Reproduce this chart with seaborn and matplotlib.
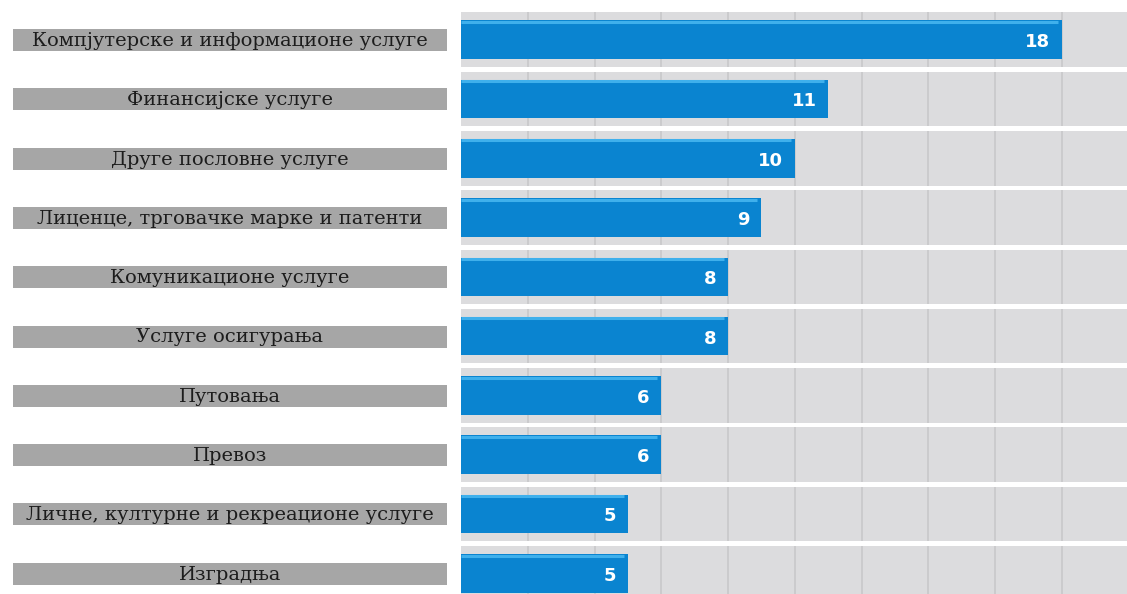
import matplotlib
matplotlib.use("Agg")
import matplotlib.pyplot as plt
import seaborn as sns
import pandas as pd
from matplotlib.patches import Rectangle

categories = [
    "Компјутерске и информационе услуге",
    "Финансијске услуге",
    "Друге пословне услуге",
    "Лиценце, трговачке марке и патенти",
    "Комуникационе услуге",
    "Услуге осигурања",
    "Путовања",
    "Превоз",
    "Личне, културне и рекреационе услуге",
    "Изградња",
]
values = [18, 11, 10, 9, 8, 8, 6, 6, 5, 5]
grid_ticks = [2, 4, 6, 8, 10, 12, 14, 16, 18]

df = pd.DataFrame({"category": categories, "value": values})

sns.set_theme(style="white")
plt.rcParams["font.family"] = ["DejaVu Sans"]

W, H = 1127, 594
fig = plt.figure(figsize=(W / 100, H / 100), dpi=100)
fig.patch.set_facecolor("white")

ax_left = 461 / W
ax = fig.add_axes([ax_left, -9 / H, 1 - ax_left, 593 / H])
ax.set_facecolor("white")

n = len(categories)
band_half = 0.46

# light grey row bands with vertical grid lines inside each band
for i in range(n):
    ax.axhspan(i - band_half, i + band_half, xmin=0, xmax=1,
               facecolor="#dcdcde", edgecolor="none", zorder=0)
    ax.vlines(grid_ticks, i - band_half, i + band_half,
              colors="#c6c6c8", linewidth=1.1, zorder=1)

bar_h = 0.65
sns.barplot(data=df, y="category", x="value", orient="h", ax=ax,
            color="#0a84d0", width=bar_h, saturation=1, zorder=2,
            edgecolor="none")

# lighter top edge on each bar, value printed inside its end
for i, v in enumerate(values):
    ax.hlines(i - bar_h / 2 + 0.025, 0, v - 0.12, colors="#3fb0ec",
              linewidth=2.2, zorder=3)
    ax.text(v - 0.35, i + 0.04, str(v), ha="right", va="center",
            color="white", fontsize=13, fontweight="bold", zorder=4)

ax.set_xlim(0, 19.95)
ax.set_ylim(n - 0.5, -0.5)
ax.set_xlabel("")
ax.set_ylabel("")
ax.set_xticks([])
ax.set_yticks([])
for s in ax.spines.values():
    s.set_visible(False)

# grey label boxes on the left
row_px = [40 + 59.3 * i for i in range(n)]
box_x0, box_x1 = 13, 447
box_h = 22
for lab, yc in zip(categories, row_px):
    yf = 1 - yc / H
    fig.patches.append(Rectangle((box_x0 / W, yf - box_h / 2 / H),
                                 (box_x1 - box_x0) / W, box_h / H,
                                 transform=fig.transFigure,
                                 facecolor="#a6a6a6", edgecolor="none"))
    fig.text((box_x0 + box_x1) / 2 / W, yf - 1 / H, lab, ha="center",
             va="center", fontsize=14, color="#1c1c1c",
             family="DejaVu Serif")

fig.savefig("out.png", dpi=100)
